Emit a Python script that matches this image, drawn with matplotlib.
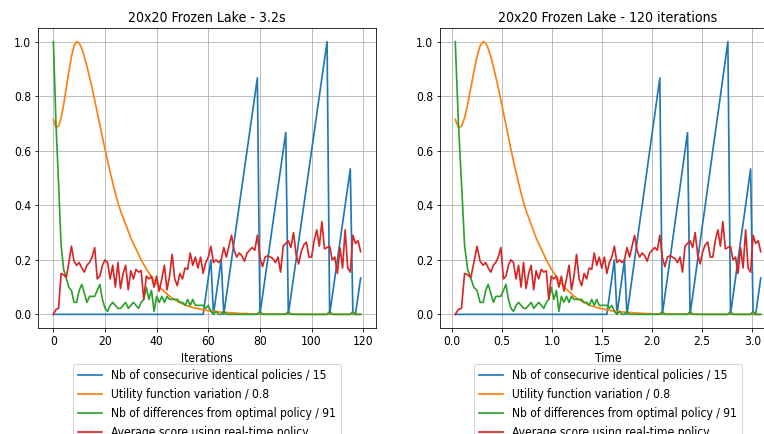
import numpy as np
import matplotlib
matplotlib.use("Agg")
import matplotlib.pyplot as plt

plt.rcParams['font.family'] = 'DejaVu Sans'
plt.rcParams['font.stretch'] = 'condensed'
plt.rcParams['font.size'] = 12

# 120 value iteration steps on a 20x20 frozen lake
iterations = np.arange(120)

times = [0.033, 0.064, 0.095, 0.126, 0.157, 0.188, 0.219, 0.250, 0.281, 0.312,
         0.337, 0.362, 0.388, 0.413, 0.438, 0.463, 0.488, 0.514, 0.539, 0.564,
         0.589, 0.614, 0.640, 0.665, 0.690, 0.715, 0.740, 0.766, 0.791, 0.816,
         0.841, 0.866, 0.892, 0.917, 0.942, 0.967, 0.992, 1.018, 1.043, 1.068,
         1.093, 1.118, 1.144, 1.169, 1.194, 1.219, 1.244, 1.270, 1.295, 1.320,
         1.345, 1.370, 1.396, 1.421, 1.446, 1.471, 1.496, 1.522, 1.547, 1.572,
         1.597, 1.622, 1.648, 1.673, 1.698, 1.723, 1.748, 1.774, 1.799, 1.824,
         1.849, 1.874, 1.900, 1.925, 1.950, 1.975, 2.000, 2.026, 2.051, 2.076,
         2.101, 2.126, 2.152, 2.177, 2.202, 2.227, 2.252, 2.278, 2.303, 2.328,
         2.353, 2.378, 2.404, 2.429, 2.454, 2.479, 2.504, 2.530, 2.555, 2.580,
         2.605, 2.630, 2.656, 2.681, 2.706, 2.731, 2.756, 2.782, 2.807, 2.832,
         2.857, 2.882, 2.908, 2.933, 2.958, 2.983, 3.008, 3.034, 3.059, 3.084]

same_policy = [0, 0, 0, 0, 0, 0, 0, 0, 0, 0, 0, 0, 0, 0, 0, 0, 0, 0, 0, 0,
               0, 0, 0, 0, 0, 0, 0, 0, 0, 0, 0, 0, 0, 0, 0, 0, 0, 0, 0, 0,
               0, 0, 0, 0, 0, 0, 0, 0, 0, 0, 0, 0, 0, 0, 0, 0, 0, 0, 0, 1,
               2, 3, 0, 1, 2, 3, 0, 1, 2, 3, 4, 5, 6, 7, 8, 9, 10, 11, 12, 13,
               0, 1, 2, 3, 4, 5, 6, 7, 8, 9, 10, 0, 1, 2, 3, 4, 5, 6, 7, 8,
               9, 10, 11, 12, 13, 14, 15, 0, 1, 2, 3, 4, 5, 6, 7, 8, 0, 0, 1, 2]

utility_var = [0.715, 0.685, 0.690, 0.720, 0.770, 0.830, 0.890, 0.945, 0.985, 1.000,
               0.995, 0.975, 0.945, 0.910, 0.870, 0.830, 0.785, 0.740, 0.695, 0.650,
               0.605, 0.562, 0.522, 0.482, 0.445, 0.410, 0.380, 0.355, 0.330, 0.305,
               0.280, 0.260, 0.240, 0.220, 0.200, 0.183, 0.167, 0.152, 0.138, 0.125,
               0.113, 0.102, 0.092, 0.083, 0.075, 0.067, 0.060, 0.054, 0.048, 0.043,
               0.039, 0.035, 0.031, 0.028, 0.025, 0.023, 0.021, 0.019, 0.017, 0.015,
               0.013, 0.012, 0.011, 0.010, 0.009, 0.008, 0.008, 0.007, 0.006, 0.005,
               0.005, 0.004, 0.004, 0.003, 0.003, 0.003, 0.002, 0.002, 0.002, 0.002,
               0.005, 0.001, 0.001, 0.001, 0.001, 0.001, 0.001, 0.001, 0.001, 0.001,
               0.001, 0.004, 0.001, 0.001, 0.001, 0.000, 0.000, 0.000, 0.000, 0.000,
               0.000, 0.000, 0.000, 0.000, 0.000, 0.000, 0.000, 0.004, 0.000, 0.000,
               0.000, 0.000, 0.000, 0.000, 0.000, 0.000, 0.004, 0.000, 0.000, 0.000]

diff_optimal = [91, 64, 44, 23, 15, 12, 9, 8, 4, 4,
                8, 10, 7, 4, 6, 6, 6, 8, 10, 5,
                2, 1, 3, 4, 3, 2, 2, 3, 4, 2,
                3, 4, 3, 2, 4, 5, 9, 5, 8, 1,
                6, 4, 6, 4, 6, 5, 5, 5, 5, 4,
                4, 3, 5, 3, 5, 3, 3, 3, 3, 2,
                3, 1, 0, 1, 0, 0, 1, 0, 0, 0,
                0, 0, 0, 0, 0, 0, 0, 0, 0, 0,
                1, 0, 0, 0, 0, 0, 0, 0, 0, 0,
                0, 1, 0, 0, 0, 0, 0, 0, 0, 0,
                0, 0, 0, 0, 0, 0, 0, 1, 0, 0,
                0, 0, 0, 0, 0, 0, 1, 0, 0, 0]

avg_score = [0.000, 0.018, 0.022, 0.150, 0.145, 0.135, 0.190, 0.250, 0.195, 0.180,
             0.190, 0.170, 0.155, 0.180, 0.190, 0.210, 0.245, 0.130, 0.140, 0.180,
             0.200, 0.190, 0.130, 0.180, 0.100, 0.190, 0.095, 0.150, 0.180, 0.090,
             0.160, 0.130, 0.165, 0.155, 0.160, 0.055, 0.140, 0.130, 0.140, 0.100,
             0.140, 0.085, 0.130, 0.180, 0.090, 0.140, 0.220, 0.130, 0.105, 0.150,
             0.130, 0.170, 0.165, 0.225, 0.180, 0.210, 0.170, 0.210, 0.150, 0.190,
             0.210, 0.250, 0.190, 0.200, 0.190, 0.200, 0.245, 0.210, 0.250, 0.290,
             0.235, 0.210, 0.225, 0.215, 0.195, 0.225, 0.235, 0.245, 0.235, 0.290,
             0.210, 0.175, 0.210, 0.215, 0.210, 0.205, 0.190, 0.210, 0.155, 0.250,
             0.260, 0.270, 0.245, 0.300, 0.220, 0.185, 0.230, 0.255, 0.265, 0.210,
             0.210, 0.270, 0.310, 0.250, 0.340, 0.240, 0.245, 0.250, 0.200, 0.210,
             0.150, 0.245, 0.170, 0.310, 0.170, 0.155, 0.290, 0.260, 0.270, 0.230]

labels = ['Nb of consecurive identical policies / 15',
          'Utility function variation / 0.8',
          'Nb of differences from optimal policy / 91',
          'Average score using real-time policy']

series = [np.array(same_policy) / 15,
          np.array(utility_var),
          np.array(diff_optimal) / 91,
          np.array(avg_score)]

fig = plt.figure(figsize=(764 / 72, 434 / 72), dpi=72)
ax1 = fig.add_axes([38 / 764, 1 - 328 / 434, 338 / 764, 300 / 434])
ax2 = fig.add_axes([440 / 764, 1 - 328 / 434, 336 / 764, 300 / 434])

for ax, x, title, xlabel in [(ax1, iterations, '20x20 Frozen Lake - 3.2s', 'Iterations'),
                             (ax2, times, '20x20 Frozen Lake - 120 iterations', 'Time')]:
    for y, lab in zip(series, labels):
        ax.plot(x, y, label=lab, lw=1.7)
    ax.set_title(title, fontsize=14)
    ax.set_xlabel(xlabel)
    ax.grid()
    ax.legend(loc='upper center', bbox_to_anchor=(0.5, -0.10))

fig.savefig('out.png', dpi=72)
